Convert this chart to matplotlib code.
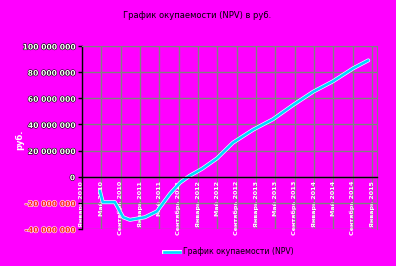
import matplotlib
matplotlib.use("Agg")
import matplotlib.pyplot as plt
import matplotlib.patheffects as pe
from matplotlib.lines import Line2D

title = "График окупаемости (NPV) в руб."
series_name = "График окупаемости (NPV)"
y_label = "руб."

# months since January 2010
months = [3.7, 4.3, 6.8, 8.5, 9.9, 13.0, 15.5, 18.2, 20.3, 22.3, 24.8, 27.9,
          31.2, 35.4, 39.5, 43.7, 47.8, 51.9, 56.1, 59.2]
npv = [-10.9e6, -19.5e6, -19.5e6, -31e6, -33e6, -31e6, -26.5e6, -13e6, -4.5e6, 0.8e6,
       6e6, 14e6, 26e6, 36e6, 44e6, 55e6, 65e6, 73e6, 83e6, 89e6]

tick_months = list(range(0, 61, 4))
tick_labels = ["Январь 2010", "Май 2010", "Сентябрь 2010",
               "Январь 2011", "Май 2011", "Сентябрь 2011",
               "Январь 2012", "Май 2012", "Сентябрь 2012",
               "Январь 2013", "Май 2013", "Сентябрь 2013",
               "Январь 2014", "Май 2014", "Сентябрь 2014",
               "Январь 2015"]
y_ticks = [-40e6, -20e6, 0, 20e6, 40e6, 60e6, 80e6, 100e6]

bg = "#FF00FF"
fig = plt.figure(figsize=(3.96, 2.66), dpi=100, facecolor=bg)
ax = fig.add_axes([82/396, 1-229/266, (377-82)/396, (229-46)/266], facecolor=bg)

ax.spines["bottom"].set_position(("data", 0))

ax.set_xlim(0, 61)
ax.set_ylim(-40e6, 100e6)
ax.set_yticks(y_ticks)
ax.set_xticks(tick_months)

def fmt(v):
    s = f"{int(abs(v)):,}".replace(",", " ")
    return ("-" if v < 0 else "") + s

ax.tick_params(axis="y", length=3, width=1, color="black", pad=2)
ax.tick_params(axis="x", length=0, pad=3)

ylabels = ax.set_yticklabels([fmt(v) for v in y_ticks], fontsize=5.5, fontweight="bold")
for v, t in zip(y_ticks, ylabels):
    if v < 0:
        t.set_color("#FF2020")
        t.set_path_effects([pe.withStroke(linewidth=0.8, foreground="white")])
    else:
        t.set_color("white")
        t.set_path_effects([pe.withStroke(linewidth=0.8, foreground="black")])

ax.set_xticklabels(tick_labels, rotation=90, fontsize=4.6, color="white",
                   fontweight="bold", va="top", ha="center")

ax.grid(True, color="#808080", linewidth=1)
ax.set_axisbelow(True)

ax.spines["bottom"].set_color("black")
ax.spines["left"].set_color("black")
ax.spines["left"].set_linewidth(1)
ax.spines["bottom"].set_linewidth(1)
ax.spines["top"].set_color("#808080")
ax.spines["right"].set_color("#808080")

ax.plot(months, npv, color="white", linewidth=2.8, solid_capstyle="round",
        solid_joinstyle="round")
ax.plot(months, npv, color="#00D8FF", linewidth=1.9, solid_capstyle="round",
        solid_joinstyle="round")

fig.text(197/396, 1-16/266, title, ha="center", va="center", fontsize=6, color="black")
fig.text(20/396, 1-140/266, y_label, ha="center", va="center", fontsize=6,
         color="white", fontweight="bold", rotation=90)

handle = Line2D([], [], color="#00D8FF", linewidth=1.9,
                path_effects=[pe.Stroke(linewidth=2.8, foreground="white"), pe.Normal()])
fig.legend([handle], [series_name], loc="center", bbox_to_anchor=(229/396, 1-252/266),
           frameon=False, fontsize=5.6, handlelength=2.0, handletextpad=0.4)

fig.savefig("out.png", dpi=100, facecolor=bg)
